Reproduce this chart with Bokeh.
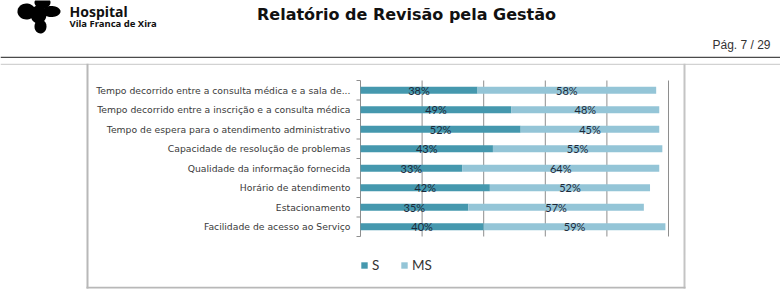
import numpy as np
from bokeh.plotting import figure
from bokeh.models import (ColumnDataSource, Range1d, Label, BoxAnnotation, PolyAnnotation,
                          Legend, LegendItem)
from bokeh.core.properties import value
from bokeh.embed import file_html
from bokeh.resources import INLINE

# ---------------- data ----------------
categories = [
    "Tempo decorrido entre a consulta médica e a sala de...",
    "Tempo decorrido entre a inscrição e a consulta médica",
    "Tempo de espera para o atendimento administrativo",
    "Capacidade de resolução de problemas",
    "Qualidade da informação fornecida",
    "Horário de atendimento",
    "Estacionamento",
    "Facilidade de acesso ao Serviço",
]
s_values = [38, 49, 52, 43, 33, 42, 35, 40]
ms_values = [58, 48, 45, 55, 64, 52, 57, 59]
series = ["S", "MS"]
grid_ticks = [20, 40, 60, 80, 100]

# ---------------- style / layout ----------------
C_S = "#4598ae"
C_MS = "#94c5d7"
GRID = "#8e8e8e"
W, H = 780, 301
X_ZERO_PX = 360          # canvas x of 0 %
PX_PER_PCT = 3.08
CAT_TOP_PX, CAT_BOT_PX = 80, 236
n = len(categories)
PX_PER_CAT = (CAT_BOT_PX - CAT_TOP_PX) / n

x_range = Range1d(-X_ZERO_PX / PX_PER_PCT, (W - X_ZERO_PX) / PX_PER_PCT)
y_range = Range1d(-0.5 - (H - CAT_BOT_PX) / PX_PER_CAT, -0.5 + CAT_BOT_PX / PX_PER_CAT)

p = figure(width=W, height=H, x_range=x_range, y_range=y_range,
           x_axis_location=None, y_axis_location=None,
           output_backend="svg", toolbar_location=None, min_border=0)
p.title.visible = False
p.outline_line_color = None
p.grid.visible = False
p.background_fill_color = "white"
p.border_fill_color = "white"

# category positions (first category on top)
cat_pos = [n - 1 - k for k in range(n)]
lo, hi = -0.5, n - 0.5
tick_len = 4 / PX_PER_PCT

# grid lines, axis line, boundary ticks
p.segment(x0=grid_ticks, x1=grid_ticks, y0=lo, y1=hi, line_color=GRID, line_width=1)
p.segment(x0=0, x1=0, y0=lo, y1=hi, line_color=GRID, line_width=1)
bounds = list(np.arange(lo, hi + 0.01, 1.0))
p.segment(x0=-tick_len, x1=0, y0=bounds, y1=bounds, line_color=GRID, line_width=1)

# category labels
p.text(x=-10 / PX_PER_PCT, y=cat_pos, text=categories, text_align="right", text_baseline="middle",
       text_font=value("DejaVu Sans"), text_font_size="9.25px", text_color="#3a3a3a")

# bars
src = ColumnDataSource(dict(y=cat_pos, S=s_values, MS=ms_values))
rs = p.hbar_stack(series, y="y", height=0.36, color=[C_S, C_MS], line_color=None, source=src)

# value labels
lab_x = [s / 2 for s in s_values] + [s + m / 2 for s, m in zip(s_values, ms_values)]
lab_y = cat_pos + cat_pos
lab_t = [f"{v}%" for v in s_values] + [f"{v}%" for v in ms_values]
p.text(x=lab_x, y=lab_y, text=lab_t, text_align="center", text_baseline="middle",
       text_font=value("Lato"), text_font_size="11px", text_color="#1c2a3a")

legend = Legend(items=[LegendItem(label="S", renderers=[rs[0]]),
                       LegendItem(label="MS", renderers=[rs[1]])],
                location=(X_ZERO_PX, H - 273), orientation="horizontal",
                glyph_width=8, glyph_height=8, label_standoff=4, spacing=8,
                padding=0, margin=0, border_line_color=None, background_fill_alpha=0,
                label_height=14, label_text_font="Lato", label_text_font_size="13.5px",
                label_text_color="#333333")
p.add_layout(legend)

# ---------------- page decorations (screen units) ----------------
def ay(cy):
    return H - cy

def box(l, r, t, b, color):
    p.add_layout(BoxAnnotation(left=l, right=r, top=ay(t), bottom=ay(b),
                               left_units="screen", right_units="screen",
                               top_units="screen", bottom_units="screen",
                               fill_color=color, fill_alpha=1, line_color=None))

box(0, 780, 56.3, 57.6, "#4a4a4a")       # header rule
box(0, 780, 63.2, 64.6, "#d2d2d2")       # table top line
box(86, 88, 63.2, 288, "#b8b8b8")        # left border
box(683, 685, 63.2, 288, "#c4c4c4")      # right border
box(86, 685, 286.3, 288, "#b8b8b8")      # bottom border

# logo blobs
t = np.linspace(0, 2 * np.pi, 40)
for cx, cy, rx, ry in [(26, 11, 9, 8), (42, 2, 8, 6), (51, 11, 9, 5.5), (38, 14, 8, 9), (40, 26, 6, 7)]:
    p.add_layout(PolyAnnotation(xs=list(cx + rx * np.cos(t)), ys=list(ay(cy + ry * np.sin(t))),
                                xs_units="screen", ys_units="screen",
                                fill_color="black", fill_alpha=1, line_color=None))

def label(x, y, text, font, size, style="normal", align="left", color="#111111"):
    p.add_layout(Label(x=x, y=ay(y), x_units="screen", y_units="screen", text=text,
                       text_font=font, text_font_size=size, text_font_style=style,
                       text_align=align, text_baseline="alphabetic", text_color=color))

label(69, 11, "Hospital", "Noto Sans", "14px", "bold")
label(69, 23, "Vila Franca de Xira", "Noto Sans", "9.5px", "bold")
label(406, 14, "Relatório de Revisão pela Gestão", "DejaVu Sans", "16px", "bold", "center")
label(770, 44, "Pág. 7 / 29", "Liberation Sans", "12px", "normal", "right", "#333333")

open("out.html", "w").write(file_html(p, INLINE))
